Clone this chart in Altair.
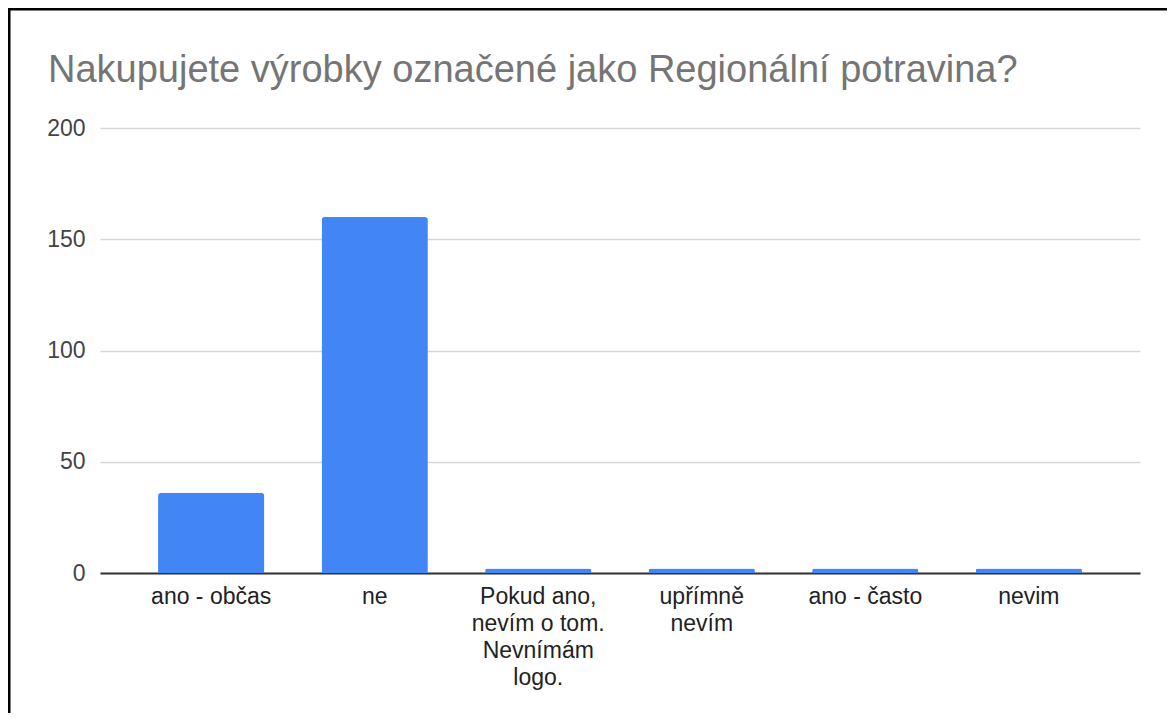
import altair as alt
import pandas as pd

categories = [
    "ano - občas",
    "ne",
    "Pokud ano,\nnevím o tom.\nNevnímám\nlogo.",
    "upřímně\nnevím",
    "ano - často",
    "nevim",
]
counts = [36, 160, 2, 2, 2, 2]
y_ticks = [0, 50, 100, 150, 200]
title_text = "Nakupujete výrobky označené jako Regionální potravina?"

df = pd.DataFrame({"kategorie": categories, "pocet": counts})

W, H = 1040, 445
PAD = {"left": 92, "top": 120, "right": 27, "bottom": 140}
FONT = "Liberation Sans, Arial, sans-serif"

bars = alt.Chart(df).mark_bar(
    color="#4285F4", cornerRadiusTopLeft=3, cornerRadiusTopRight=3
).encode(
    x=alt.X(
        "kategorie:N",
        sort=None,
        title=None,
        scale=alt.Scale(paddingInner=0.35, paddingOuter=0.355),
        axis=alt.Axis(
            labelAngle=0,
            labelExpr="split(datum.label, '\\n')",
            labelFontSize=23,
            labelColor="#222222",
            labelFont=FONT,
            labelLineHeight=27,
            labelPadding=12,
            labelBaseline="top",
            ticks=False,
            domain=True,
            domainColor="#333333",
            domainWidth=2,
            grid=False,
            labelLimit=400,
        ),
    ),
    y=alt.Y(
        "pocet:Q",
        title=None,
        scale=alt.Scale(domain=[0, 200], nice=False),
        axis=alt.Axis(
            values=y_ticks,
            labelFontSize=23,
            labelColor="#444444",
            labelFont=FONT,
            labelPadding=15,
            ticks=False,
            domain=False,
            gridColor="#d6d6d6",
            gridWidth=1.5,
        ),
    ),
)

frame_df = pd.DataFrame({"t": [title_text]})
top_line = alt.Chart(frame_df).mark_rule(color="#000000", strokeWidth=3).encode(
    x=alt.value(-PAD["left"]), x2=alt.value(W + PAD["right"]), y=alt.value(-PAD["top"] + 1)
)
left_line = alt.Chart(frame_df).mark_rule(color="#000000", strokeWidth=3).encode(
    x=alt.value(-PAD["left"] + 1), y=alt.value(-PAD["top"]), y2=alt.value(H + PAD["bottom"])
)
title_mark = alt.Chart(frame_df).mark_text(
    align="left",
    baseline="alphabetic",
    fontSize=38,
    font=FONT,
    color="#757575",
).encode(
    text="t:N",
    x=alt.value(-52),
    y=alt.value(-46),
)

chart = alt.layer(bars, top_line, left_line, title_mark).properties(
    width=W,
    height=H,
    padding=PAD,
    autosize=alt.AutoSizeParams(type="none"),
    background="white",
).configure_view(stroke=None)

chart.save("out.html", embed_options={"renderer": "svg", "actions": False})
